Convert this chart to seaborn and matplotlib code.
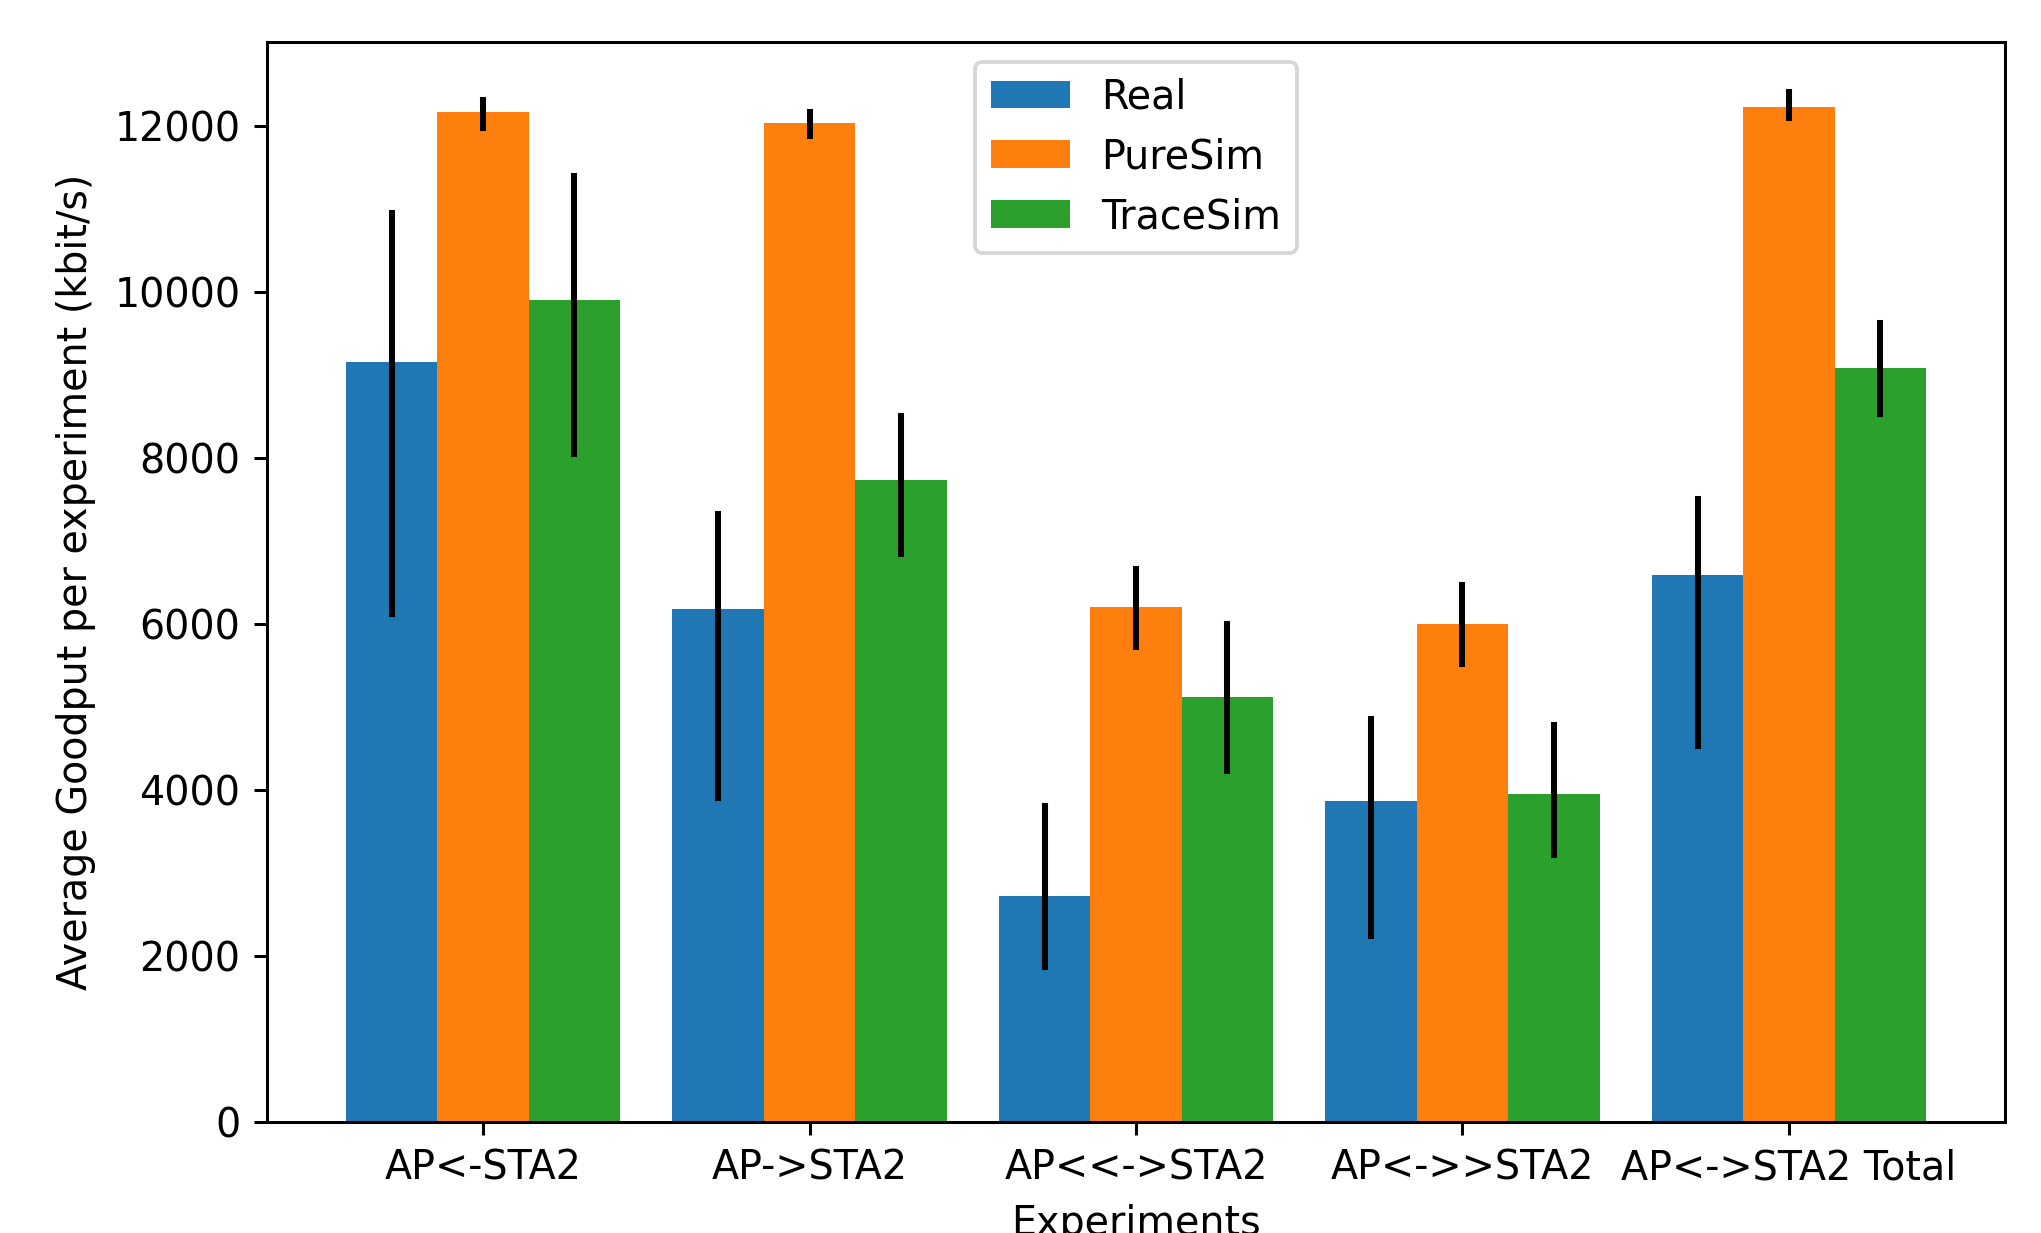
import numpy as np
import pandas as pd
import matplotlib
matplotlib.use("Agg")
import matplotlib.pyplot as plt
import seaborn as sns

experiments = ["AP<-STA2", "AP->STA2", "AP<<->STA2", "AP<->>STA2", "AP<->STA2 Total"]
series = ["Real", "PureSim", "TraceSim"]

real_mean = [9165, 6185, 2730, 3875, 6590]
real_low = [6130, 3905, 1867, 2244, 4534]
real_high = [10960, 7330, 3813, 4864, 7516]

puresim_mean = [12177, 12040, 6213, 6009, 12238]
puresim_low = [11985, 11880, 5727, 5523, 12097]
puresim_high = [12318, 12178, 6668, 6480, 12410]

tracesim_mean = [9905, 7740, 5131, 3954, 9085]
tracesim_low = [8053, 6843, 4236, 3216, 8535]
tracesim_high = [11400, 8515, 6009, 4786, 9633]

colors = ["#1f77b4", "#ff7f0e", "#2ca02c"]

rows = []
for name, lo, mu, hi in [
    ("Real", real_low, real_mean, real_high),
    ("PureSim", puresim_low, puresim_mean, puresim_high),
    ("TraceSim", tracesim_low, tracesim_mean, tracesim_high),
]:
    for exp, l, m, h in zip(experiments, lo, mu, hi):
        for v in (l, m, h):
            rows.append({"Experiment": exp, "Series": name, "Goodput": v})
df = pd.DataFrame(rows)

FS = 10.5
DPI = 272
fig = plt.figure(figsize=(2041 / DPI, 1233 / DPI), dpi=DPI)
ax = fig.add_axes([0.1308, 0.0897, 0.9824 - 0.1308, 0.9662 - 0.0897])

sns.barplot(
    data=df, x="Experiment", y="Goodput", hue="Series",
    order=experiments, hue_order=series, palette=colors,
    estimator="median", errorbar=lambda x: (np.min(x), np.max(x)),
    width=0.84, saturation=1, linewidth=0, capsize=0,
    err_kws={"color": "black", "linewidth": 1.6}, ax=ax,
)

ax.set_xlim(-0.662, 4.662)
ax.set_ylim(0, 13020)
ax.set_yticks([0, 2000, 4000, 6000, 8000, 10000, 12000])
ax.set_xlabel("Experiments", fontsize=FS)
ax.set_ylabel("Average Goodput per experiment (kbit/s)", fontsize=FS, labelpad=5)
ax.tick_params(labelsize=FS)
for s in ax.spines.values():
    s.set_visible(True)
    s.set_linewidth(0.8)
    s.set_color("black")

sns.move_legend(ax, "upper center", title=None, fontsize=FS, frameon=True)

fig.savefig("out.png", dpi=DPI)
